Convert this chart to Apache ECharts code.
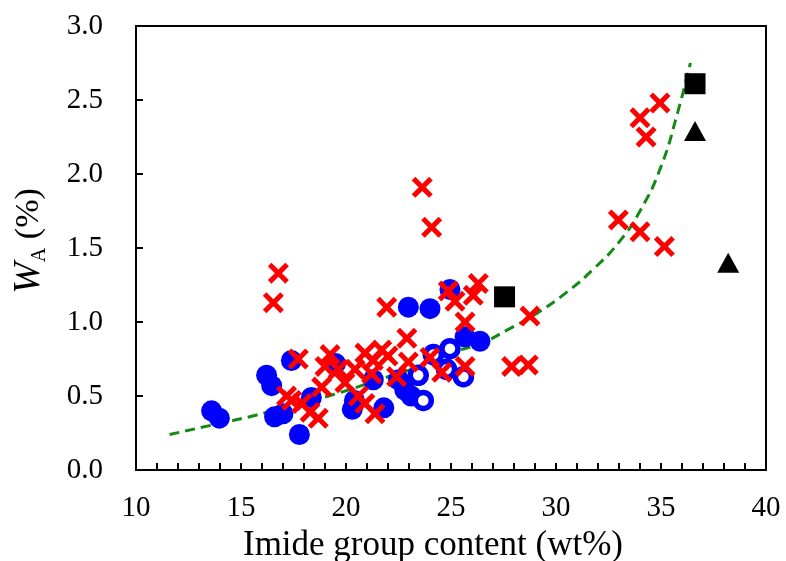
<!DOCTYPE html>
<html>
<head>
<meta charset="utf-8">
<script src="https://cdn.jsdelivr.net/npm/echarts@6/dist/echarts.min.js"></script>
<style>
html,body{margin:0;padding:0;background:#fff;}
#chart{width:786px;height:561px;}
</style>
</head>
<body>
<div id="chart"></div>
<script>
// Data (x: imide group content wt%, y: WA %)
const filledCircles = [
  [13.6,0.40],[13.97,0.35],[16.22,0.64],[16.46,0.57],[16.6,0.36],[17.0,0.38],
  [17.4,0.74],[17.78,0.24],[18.35,0.49],[19.5,0.72],[20.4,0.47],[20.3,0.41],
  [21.3,0.61],[21.8,0.42],[22.5,0.61],[22.8,0.54],[23.1,0.50],
  [22.97,1.10],[24.0,1.09],[24.95,1.22],[25.67,0.90],[26.38,0.87]
];
const openCircles = [
  [24.95,0.82],[24.16,0.78],[23.44,0.64],[25.59,0.63],[24.79,0.68],[23.68,0.47]
];
const crosses = [
  [16.78,1.33],[16.54,1.13],[17.73,0.75],[17.17,0.50],[17.41,0.47],[17.9,0.45],
  [18.29,0.39],[18.68,0.35],[18.84,0.56],[19.0,0.70],[19.24,0.78],[19.63,0.68],
  [19.95,0.59],[20.43,0.68],[20.59,0.50],[20.9,0.45],[20.9,0.79],[21.3,0.74],
  [21.22,0.65],[21.38,0.38],[21.7,0.81],[22.0,0.77],[21.94,1.10],[22.41,0.63],
  [22.9,0.89],[22.97,0.73],[23.63,1.91],[24.08,1.64],[24.0,0.76],[24.56,0.66],
  [24.87,1.21],[25.19,1.14],[25.67,1.00],[25.67,0.70],[26.06,1.18],[26.3,1.26],
  [28.76,1.04],[27.89,0.70],[28.68,0.71],[32.97,1.69],[34.0,1.61],[35.16,1.51],
  [34.0,2.38],[34.29,2.25],[34.95,2.48]
];
const squares = [[27.55,1.17],[36.62,2.61]];
const triangles = [[36.62,2.29],[38.2,1.40]];
const trendCurve = [
  [11.6,0.24],[13.5,0.30],[15.7,0.37],[17.5,0.44],[19.4,0.51],[22.0,0.63],
  [23.9,0.72],[25.0,0.79],[26.5,0.86],[27.6,0.94],[29.1,1.06],[30.5,1.20],
  [31.8,1.36],[33.0,1.54],[34.0,1.75],[35.0,2.05],[35.8,2.42],[36.4,2.75]
];
const xTicks = {min:10, max:40, interval:5};
const yTicks = {min:0, max:3, interval:0.5};

const crossPath = 'path://M0,1.7L1.7,0L5,3.3L8.3,0L10,1.7L6.7,5L10,8.3L8.3,10L5,6.7L1.7,10L0,8.3L3.3,5Z';
const serif = '"Liberation Serif","DejaVu Serif",serif';

const chart = echarts.init(document.getElementById('chart'));
chart.setOption({
  animation:false,
  backgroundColor:'#fff',
  grid:{left:136,right:20,top:26,bottom:91,containLabel:false,outerBoundsMode:'none',
        show:true,borderColor:'#000',borderWidth:2,backgroundColor:'transparent'},
  xAxis:{
    type:'value', min:xTicks.min, max:xTicks.max, interval:xTicks.interval,
    axisLine:{lineStyle:{color:'#000',width:2}},
    axisTick:{inside:true,length:7,lineStyle:{color:'#000',width:2}},
    minorTick:{show:true,splitNumber:5,length:7,lineStyle:{color:'#000',width:2}},
    splitLine:{show:false},
    axisLabel:{color:'#000',fontFamily:serif,fontSize:29,margin:24},
    name:'Imide group content (wt%)', nameLocation:'middle', nameGap:54,
    nameTextStyle:{color:'#000',fontFamily:serif,fontSize:35,padding:[0,36,0,0]}
  },
  yAxis:{
    type:'value', min:yTicks.min, max:yTicks.max, interval:yTicks.interval,
    axisLine:{lineStyle:{color:'#000',width:2}},
    axisTick:{inside:true,length:7,lineStyle:{color:'#000',width:2}},
    splitLine:{show:false},
    axisLabel:{color:'#000',fontFamily:serif,fontSize:29,margin:33,formatter:v=>v.toFixed(1)},
    name:'{w|W}{a|A}{p| (%)}', nameLocation:'middle', nameGap:88, nameRotate:90,
    nameTextStyle:{color:'#000',fontFamily:serif,fontSize:34,padding:[0,0,0,14],
      rich:{
        w:{fontFamily:serif,fontSize:38,fontStyle:'italic',color:'#000'},
        a:{fontFamily:serif,fontSize:20,color:'#000',verticalAlign:'bottom',padding:[0,0,-2,0]},
        p:{fontFamily:serif,fontSize:34,color:'#000'}
      }}
  },
  series:[
    {type:'line',data:trendCurve,smooth:true,symbol:'none',
     lineStyle:{color:'#138a13',width:3,type:[10,6]},z:1},
    {type:'scatter',data:filledCircles,symbol:'circle',symbolSize:21,
     itemStyle:{color:'#0000ff',opacity:1},z:2},
    {type:'scatter',data:openCircles,symbol:'circle',symbolSize:16,
     itemStyle:{color:'#fff',borderColor:'#0000ff',borderWidth:5.5,opacity:1},z:3},
    {type:'scatter',data:crosses,symbol:crossPath,symbolSize:21,
     itemStyle:{color:'#ff0000',opacity:1},z:4},
    {type:'scatter',data:squares,symbol:'rect',symbolSize:21,
     itemStyle:{color:'#000',opacity:1},z:5},
    {type:'scatter',data:triangles,symbol:'triangle',symbolSize:[22,20],
     itemStyle:{color:'#000',opacity:1},z:5}
  ]
});
</script>
</body>
</html>
